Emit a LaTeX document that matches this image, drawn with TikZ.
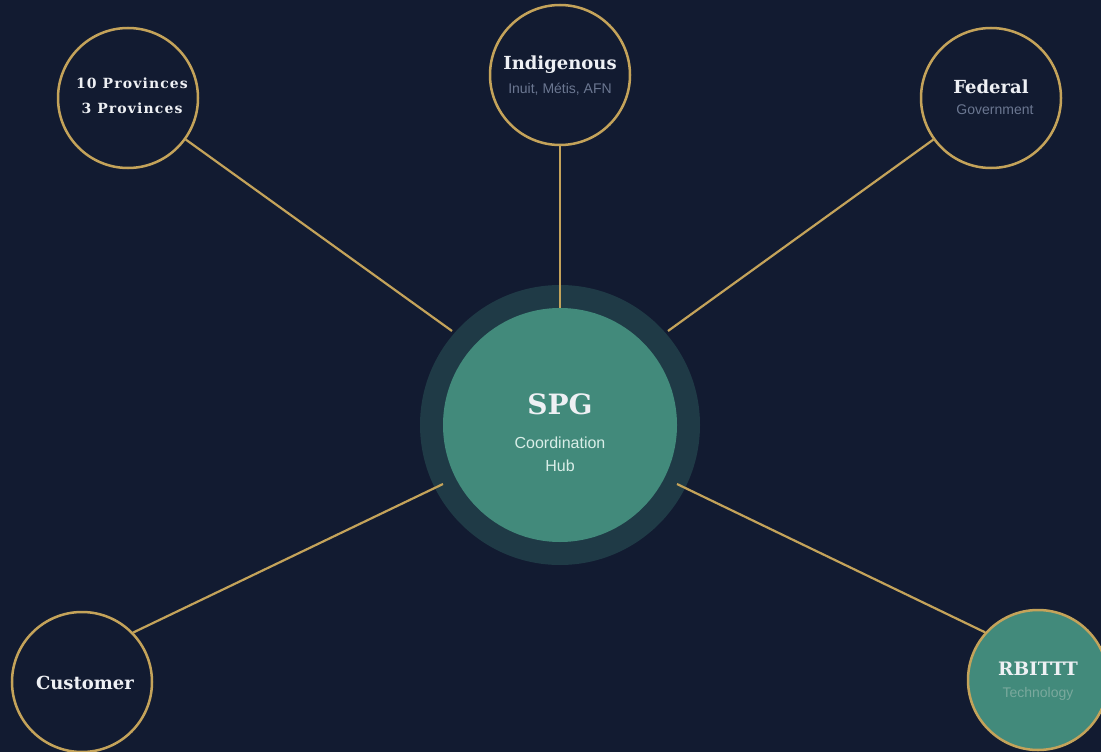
\documentclass[tikz,border=0pt]{standalone}
\usepackage{fontspec}
\setmainfont{DejaVu Serif}
\setsansfont{Liberation Sans}
\newfontfamily\provfont{DejaVu Serif}[LetterSpace=8]
\definecolor{bg}{HTML}{121B31}
\definecolor{gold}{HTML}{C4A35A}
\definecolor{hubteal}{HTML}{428A7B}
\definecolor{halo}{HTML}{1F3A46}
\definecolor{subgray}{HTML}{6B7791}
\definecolor{titlewhite}{HTML}{EEF0F4}
\definecolor{mint}{HTML}{D9EEE8}
\definecolor{techgray}{HTML}{7AA99D}
\tikzset{
  outer/.style={circle, draw=gold, line width=2.5pt, fill=bg, minimum size=140pt, inner sep=0pt},
  link/.style={draw=gold, line width=2.2pt},
  ttl/.style={text=titlewhite, font=\bfseries\fontsize{18}{21}\selectfont, inner sep=0pt},
  sub/.style={text=subgray, font=\sffamily\fontsize{14}{17}\selectfont, inner sep=0pt},
}
\begin{document}
\begin{tikzpicture}[x=1pt,y=-1pt]
\clip (0,0) rectangle (1101,752);
\fill[bg] (0,0) rectangle (1101,752);
% hub
\node[circle, fill=halo, minimum size=280pt, inner sep=0pt] (halo) at (560,425) {};
\node[circle, fill=hubteal, minimum size=234pt, inner sep=0pt] (hub) at (560,425) {};
% link end points
\coordinate (eTL) at (452,331);
\coordinate (eT) at (560,308);
\coordinate (eTR) at (668,331);
\coordinate (eBL) at (443,484);
\coordinate (eBR) at (677,484);
% outer nodes
\node[outer] (prov) at (128,98) {};
\node[outer] (indig) at (560,75) {};
\node[outer] (fed) at (991,98) {};
\node[outer] (cust) at (82,682) {};
\node[outer, fill=hubteal] (rbt) at (1038,680) {};
% links
\draw[link] (prov) -- (eTL);
\draw[link] (indig) -- (eT);
\draw[link] (fed) -- (eTR);
\draw[link] (cust.44) -- (eBL);
\draw[link] (rbt.138) -- (eBR);
% texts
\node[ttl, font=\provfont\bfseries\fontsize{14}{17}\selectfont] (provA) at (132,83) {10 Provinces};
\node[ttl, font=\provfont\bfseries\fontsize{14}{17}\selectfont] (provB) at (132,108) {3 Provinces};
\node[ttl] (indigT) at (560,65) {Indigenous};
\node[sub] (indigS) at (560,89) {Inuit, Métis, AFN};
\node[ttl] (fedT) at (991,87) {Federal};
\node[sub] (fedS) at (995,110) {Government};
\node[ttl] (custT) at (85,683) {Customer};
\node[ttl, font=\bfseries\fontsize{18.5}{21}\selectfont] (rbtT) at (1038,669) {RBITTT};
\node[sub, text=techgray] (rbtS) at (1038,694) {Technology};
\node[ttl, font=\bfseries\fontsize{28}{31}\selectfont] (hubT) at (560,404) {SPG};
\node[sub, text=mint, font=\sffamily\fontsize{16}{19}\selectfont] (hubS1) at (560,443) {Coordination};
\node[sub, text=mint, font=\sffamily\fontsize{16}{19}\selectfont] (hubS2) at (560,466) {Hub};
\end{tikzpicture}
\end{document}
